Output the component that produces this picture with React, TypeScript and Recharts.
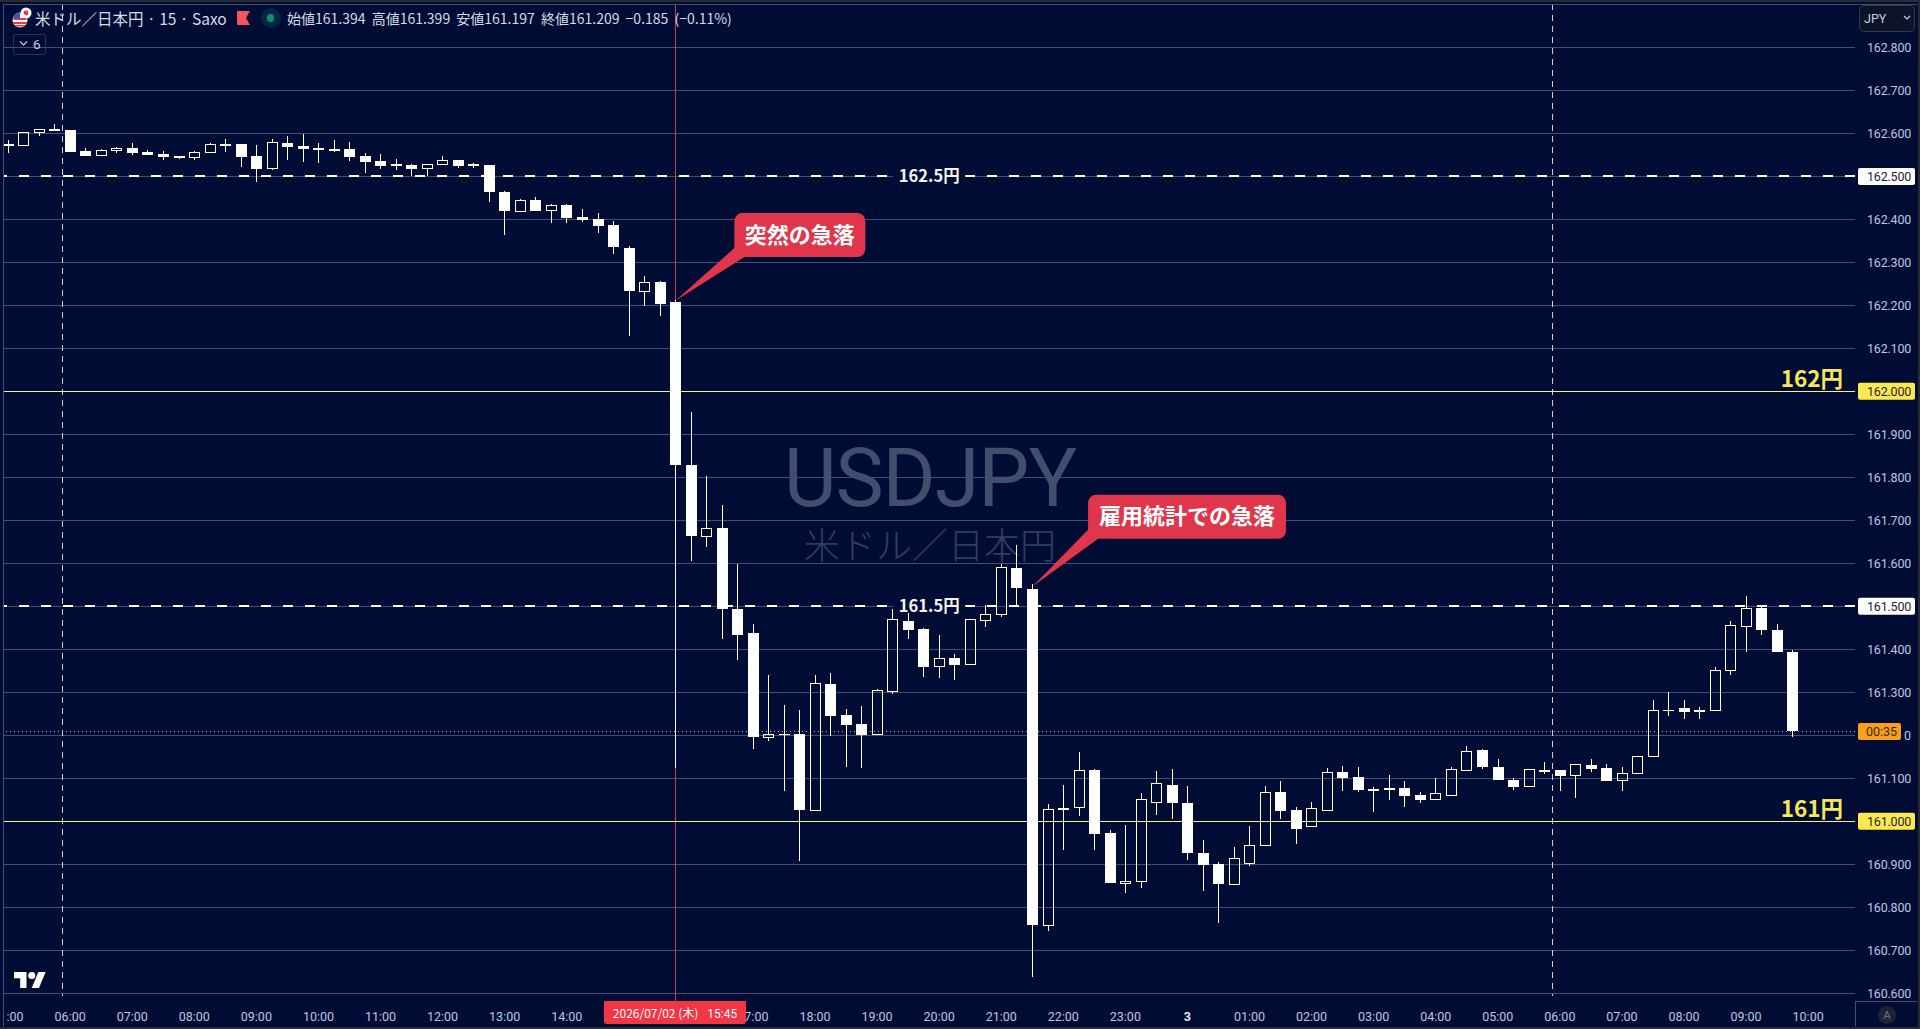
import { Bar, CartesianGrid, ComposedChart, ReferenceDot, ReferenceLine, XAxis, YAxis } from 'recharts';

const BG = '#000c34';
const GRID = '#434e78';
const YELLOW = '#f7e75a';
const LEVEL_LINE = '#f5f08a';
const RED = '#e0364c';
const TICK = '#bcc7e0';
const TICK_FONT = 'Roboto, "Noto Sans", sans-serif';
const JP_FONT = '"Noto Sans CJK JP", sans-serif';

// 15 minute candles, 07/02 05:00 to 07/03 09:45
const opens = [
  162.574, 162.571, 162.601, 162.61, 162.608, 162.558, 162.548, 162.56, 162.566, 162.557, 162.552, 162.547,
  162.543, 162.555, 162.574, 162.575, 162.547, 162.518, 162.578, 162.571, 162.566, 162.562, 162.564, 162.547,
  162.536, 162.529, 162.526, 162.518, 162.527, 162.538, 162.526, 162.526, 162.464, 162.419, 162.445, 162.42,
  162.433, 162.405, 162.401, 162.387, 162.333, 162.233, 162.254, 162.208, 161.829, 161.662, 161.682, 161.493,
  161.437, 161.196, 161.204, 161.202, 161.026, 161.32, 161.247, 161.227, 161.201, 161.303, 161.467, 161.447,
  161.359, 161.379, 161.364, 161.468, 161.48, 161.59, 161.54, 160.757, 161.03, 161.032, 161.119, 160.972,
  160.855, 160.861, 161.044, 161.084, 161.042, 160.926, 160.9, 160.854, 160.902, 160.943, 161.068, 161.026,
  160.987, 161.026, 161.114, 161.102, 161.075, 161.076, 161.077, 161.061, 161.05, 161.059, 161.119, 161.165,
  161.127, 161.097, 161.08, 161.118, 161.119, 161.106, 161.13, 161.123, 161.094, 161.11, 161.15, 161.26,
  161.263, 161.258, 161.257, 161.35, 161.454, 161.495, 161.444, 161.394,
];
const highs = [
  162.584, 162.603, 162.61, 162.622, 162.608, 162.566, 162.564, 162.569, 162.578, 162.561, 162.558, 162.547,
  162.559, 162.578, 162.587, 162.575, 162.573, 162.588, 162.594, 162.598, 162.578, 162.584, 162.58, 162.554,
  162.552, 162.54, 162.529, 162.529, 162.547, 162.538, 162.532, 162.526, 162.466, 162.447, 162.452, 162.436,
  162.436, 162.424, 162.415, 162.396, 162.338, 162.268, 162.257, 162.212, 161.952, 161.803, 161.736, 161.599,
  161.46, 161.34, 161.27, 161.258, 161.34, 161.344, 161.261, 161.268, 161.307, 161.493, 161.484, 161.449,
  161.433, 161.388, 161.47, 161.502, 161.599, 161.643, 161.553, 161.04, 161.084, 161.161, 161.121, 160.979,
  160.991, 161.065, 161.116, 161.121, 161.081, 160.956, 160.905, 160.94, 160.989, 161.082, 161.093, 161.033,
  161.044, 161.123, 161.128, 161.126, 161.079, 161.107, 161.093, 161.068, 161.1, 161.126, 161.175, 161.169,
  161.144, 161.1, 161.121, 161.137, 161.119, 161.133, 161.144, 161.133, 161.126, 161.151, 161.281, 161.3,
  161.281, 161.265, 161.36, 161.467, 161.523, 161.498, 161.46, 161.399,
];
const lows = [
  162.555, 162.57, 162.595, 162.605, 162.557, 162.547, 162.548, 162.555, 162.55, 162.55, 162.538, 162.54,
  162.538, 162.555, 162.557, 162.522, 162.487, 162.515, 162.538, 162.533, 162.531, 162.557, 162.536, 162.508,
  162.517, 162.515, 162.501, 162.501, 162.527, 162.519, 162.519, 162.44, 162.364, 162.419, 162.419, 162.392,
  162.392, 162.394, 162.368, 162.319, 162.129, 162.199, 162.175, 161.125, 161.606, 161.639, 161.423, 161.374,
  161.168, 161.186, 161.07, 160.908, 161.026, 161.198, 161.126, 161.123, 161.201, 161.296, 161.423, 161.335,
  161.333, 161.328, 161.363, 161.451, 161.475, 161.5, 160.638, 160.745, 160.933, 161.012, 160.933, 160.856,
  160.833, 160.844, 161.014, 161.005, 160.909, 160.837, 160.764, 160.854, 160.895, 160.943, 161.005, 160.947,
  160.987, 161.026, 161.07, 161.068, 161.021, 161.049, 161.033, 161.042, 161.05, 161.059, 161.119, 161.121,
  161.095, 161.072, 161.079, 161.109, 161.07, 161.054, 161.114, 161.093, 161.07, 161.109, 161.15, 161.244,
  161.237, 161.237, 161.257, 161.34, 161.393, 161.433, 161.393, 161.197,
];
const closes = [
  162.575, 162.602, 162.608, 162.605, 162.557, 162.547, 162.56, 162.566, 162.554, 162.55, 162.545, 162.545,
  162.556, 162.574, 162.575, 162.546, 162.517, 162.579, 162.568, 162.564, 162.561, 162.563, 162.546, 162.533,
  162.524, 162.524, 162.517, 162.528, 162.537, 162.524, 162.527, 162.464, 162.419, 162.444, 162.419, 162.433,
  162.403, 162.398, 162.385, 162.336, 162.233, 162.254, 162.203, 161.829, 161.664, 161.682, 161.494, 161.433,
  161.195, 161.202, 161.203, 161.026, 161.32, 161.244, 161.223, 161.2, 161.304, 161.469, 161.444, 161.36,
  161.378, 161.363, 161.469, 161.481, 161.59, 161.543, 160.759, 161.027, 161.026, 161.118, 160.97, 160.856,
  160.86, 161.05, 161.088, 161.042, 160.926, 160.898, 160.854, 160.913, 160.944, 161.067, 161.023, 160.982,
  161.03, 161.113, 161.1, 161.072, 161.07, 161.077, 161.058, 161.049, 161.064, 161.12, 161.162, 161.126,
  161.095, 161.079, 161.12, 161.119, 161.105, 161.132, 161.121, 161.093, 161.111, 161.15, 161.257, 161.256,
  161.254, 161.254, 161.35, 161.455, 161.495, 161.444, 161.393, 161.209,
];
// one label per 4 candles; 15:00 and 16:00 sit under the cursor tag and are blank,
// the first and the 17:00 label are cut by an edge in the picture
const timeLabels = [
  ':00', '06:00', '07:00', '08:00', '09:00', '10:00', '11:00', '12:00', '13:00', '14:00', '', '',
  '7:00', '18:00', '19:00', '20:00', '21:00', '22:00', '23:00', '3', '01:00', '02:00', '03:00', '04:00',
  '05:00', '06:00', '07:00', '08:00', '09:00', '10:00',
];
const timeTicks = timeLabels.map((_, i) => i * 4);
const gridPrices = [
  160.6, 160.7, 160.8, 160.9, 161, 161.1, 161.2, 161.3, 161.4, 161.5, 161.6, 161.7, 161.8, 161.9, 162, 162.1,
  162.2, 162.3, 162.4, 162.5, 162.6, 162.7, 162.8,
];
const lastPrice = 161.209;
const priceTicks = [...gridPrices, lastPrice];
const roundLevels = [
  { price: 162, label: '162円' },
  { price: 161, label: '161円' },
];
const halfLevels = [
  { price: 162.5, label: '162.5円' },
  { price: 161.5, label: '161.5円' },
];
const sessionBreaks = [3.5, 99.5];
const calloutMarks = [
  { index: 43, price: 162.2107, text: '突然の急落', dx: 59, dy: -87.7, w: 131 },
  { index: 66.02, price: 161.546, text: '雇用統計での急落', dx: 55.5, dy: -91.7, w: 198 },
];

const data = opens.map((open, i) => ({
  i,
  open,
  high: highs[i],
  low: lows[i],
  close: closes[i],
  range: [lows[i], highs[i]],
}));

function Candle(props: any) {
  const { x, y, width, height, payload } = props;
  const { open, close, high, low } = payload;
  const perUnit = height / (high - low);
  const top = y + (high - Math.max(open, close)) * perUnit;
  const bottom = y + (high - Math.min(open, close)) * perUnit;
  const mid = Math.round(x + width / 2) + 0.5;
  const left = mid - 5.5;
  const isUp = close > open;
  return (
    <g shapeRendering="crispEdges">
      <line x1={mid} x2={mid} y1={y} y2={top} stroke="#fff" />
      <line x1={mid} x2={mid} y1={bottom} y2={y + height} stroke="#fff" />
      {isUp ? (
        <rect x={left + 0.5} y={top} width={10} height={Math.max(bottom - top, 1)} fill="none" stroke="#fff" />
      ) : (
        <rect x={left} y={top} width={11} height={Math.max(bottom - top, 1.5)} fill="#fff" />
      )}
    </g>
  );
}

function PriceTick({ x, y, payload }: any) {
  const v = payload.value;
  if (v === lastPrice) {
    return (
      <g>
        <rect x={x + 1} y={y - 8.5} width={43} height={17} rx={2} fill="#f7a01c" />
        <text x={x + 9} y={y + 4.5} fontSize={12.5} fontFamily={TICK_FONT} fill="#3a2700">00:35</text>
      </g>
    );
  }
  const badge = v === 162.5 || v === 161.5 ? '#ffffff' : v === 162 || v === 161 ? '#fde94f' : null;
  // the timer tag hides all but the last digit of this tick
  if (v === 161.2) {
    return (
      <text x={x + 54} y={y + 4.5} textAnchor="end" fontSize={12.5} fontFamily={TICK_FONT} fill={TICK}>0</text>
    );
  }
  return (
    <g>
      {badge && <rect x={x + 1} y={y - 8.5} width={57} height={17} rx={2} fill={badge} />}
      <text x={x + 10} y={y + 4.5} fontSize={12.5} letterSpacing={-0.2} fontFamily={TICK_FONT} fill={badge ? '#1c2138' : TICK}>
        {v.toFixed(3)}
      </text>
    </g>
  );
}

function TimeTick({ x, y, payload }: any) {
  const label = timeLabels[payload.value / 4];
  const bold = label === '3';
  const cut = label === ':00' || label === '7:00';
  return (
    <text
      x={cut ? x + 15.5 : x}
      y={y + 18}
      textAnchor={cut ? 'end' : 'middle'}
      fontSize={12.5}
      fontWeight={bold ? 700 : 400}
      fontFamily={TICK_FONT}
      fill={bold ? '#e4e8f2' : TICK}
    >
      {label}
    </text>
  );
}

function HalfLabel({ viewBox, value }: any) {
  const cx = viewBox.x + viewBox.width / 2;
  return (
    <g>
      <rect x={cx - 36} y={viewBox.y - 8} width={72} height={16} fill={BG} />
      <text x={cx} y={viewBox.y + 5.5} textAnchor="middle" fontSize={16.5} fontWeight={700} fontFamily={JP_FONT} fill="#f2f4fa">
        {value}
      </text>
    </g>
  );
}

function RoundLabel({ viewBox, value }: any) {
  return (
    <text x={viewBox.x + viewBox.width - 12} y={viewBox.y - 4} textAnchor="end" fontSize={22.5} fontWeight={700} fontFamily={JP_FONT} fill={YELLOW}>
      {value}
    </text>
  );
}

function Callout({ cx, cy, mark }: any) {
  const left = cx + mark.dx;
  const top = cy + mark.dy;
  const h = 44;
  return (
    <g>
      <path d={`M${cx} ${cy} L${left} ${top + h - 9} L${left + 10} ${top + h} Z`} fill={RED} />
      <rect x={left} y={top} width={mark.w} height={h} rx={8} fill={RED} />
      <text
        x={left + mark.w / 2}
        y={top + 29.5}
        textAnchor="middle"
        fontSize={22}
        fontWeight={700}
        fontFamily={JP_FONT}
        fill="#fff"
      >
        {mark.text}
      </text>
    </g>
  );
}

const abs = (left: number, top: number, width: number, height: number, extra: any = {}) => ({
  position: 'absolute' as const,
  left,
  top,
  width,
  height,
  ...extra,
});

function Overlay() {
  return (
    <>
      {/* frame lines */}
      <div style={abs(3, 4, 1, 1022, { background: GRID })} />
      <div style={abs(3, 4, 1914, 1, { background: GRID })} />
      <div style={abs(1855, 1001, 1, 25, { background: GRID })} />
      <div style={abs(1855, 1001, 62, 1, { background: GRID })} />

      {/* legend row */}
      <svg style={abs(12, 7, 20, 22)} viewBox="0 0 20 22">
        <circle cx="14" cy="6" r="5.5" fill="#fff" />
        <circle cx="14" cy="6" r="2.4" fill="#e0364c" />
        <circle cx="8" cy="13" r="7.5" fill="#f2f2f2" />
        <path d="M1.5 11h13v2h-13zM1 15h14v2h-14zM3 18h10v1.500h-10z" fill="#d8404c" />
        <path d="M2 8.500a7.500 7.500 0 0 1 6-3v6h-7z" fill="#3a58a8" />
      </svg>
      <div style={abs(35, 6, 200, 24, { font: `15.5px ${JP_FONT}`, color: '#d7dbe6', lineHeight: '24px', whiteSpace: 'nowrap' })}>
        米ドル／日本円 · 15 · Saxo
      </div>
      <svg style={abs(237, 11, 13, 14)} viewBox="0 0 13 14">
        <path d="M0 0H13L9 7L13 14H0Z" fill="#f7525f" />
      </svg>
      <div style={abs(261, 8, 20, 20, { borderRadius: 10, background: '#02283f' })} />
      <div style={abs(267, 14, 7, 8, { borderRadius: 4, background: '#0f8f70' })} />
      <div style={abs(287, 7, 460, 22, { font: `14px ${JP_FONT}`, color: '#d7dbe6', lineHeight: '22px', whiteSpace: 'nowrap', wordSpacing: 3 })}>
        始値161.394 高値161.399 安値161.197 終値161.209 −0.185 (−0.11%)
      </div>
      <div style={abs(13, 34, 31, 19, { border: '1px solid #2b3655', borderRadius: 3 })} />
      <svg style={abs(19, 40, 9, 7)} viewBox="0 0 9 7">
        <path d="M1 1.500L4.500 5L8 1.500" fill="none" stroke="#c8cedd" strokeWidth="1.200" />
      </svg>
      <div style={abs(33, 34, 10, 20, { font: `13.5px ${TICK_FONT}`, color: '#c8cedd', lineHeight: '21px' })}>6</div>

      {/* currency button */}
      <div style={abs(1859, 5, 54, 25, { background: '#0e1428', border: '1px solid #2d3652', borderRadius: 5 })} />
      <div style={abs(1864, 6, 30, 25, { font: `12.5px ${TICK_FONT}`, color: '#c8cedd', lineHeight: '25px' })}>JPY</div>
      <svg style={abs(1903, 15, 8, 6)} viewBox="0 0 8 6">
        <path d="M1 1L4 4L7 1" fill="none" stroke="#c8cedd" strokeWidth="1.200" />
      </svg>

      {/* cursor time tag */}
      <div
        style={abs(604, 1001, 142, 23, {
          background: '#f23645',
          borderRadius: '0 0 3px 3px',
          color: '#fff',
          font: `12px ${TICK_FONT}`,
          lineHeight: '23px',
          textAlign: 'center',
          whiteSpace: 'pre',
        })}
      >
        <span style={{ fontFamily: JP_FONT }}>2026/07/02 (木)</span>{'   15:45'}
      </div>

      {/* auto scale button */}
      <div style={abs(1878, 1006, 18, 18, { borderRadius: 9, background: '#1d2335', color: '#6d7386', font: `11.5px ${TICK_FONT}`, lineHeight: '18px', textAlign: 'center' })}>
        A
      </div>

      {/* logo */}
      <svg style={abs(14, 972, 32, 16)} viewBox="0 4 36 18">
        <path
          d="M14 22H7V11H0V4h14v18zM28 22h-8l7.500-18h8L28 22z"
          fill="#fff"
          stroke="#20242c"
          strokeWidth="1.500"
          paintOrder="stroke"
        />
        <circle cx="20" cy="8" r="4" fill="#fff" />
      </svg>
    </>
  );
}

export default function App() {
  return (
    <div style={abs(0, 0, 1920, 1029, { background: '#2a2b31', overflow: 'hidden' })}>
      <div style={abs(0, 2, 1918, 1025, { background: BG })} />

      {/* watermark sits under the chart */}
      <div style={abs(760, 444, 340, 70, { font: `400 81px Roboto, sans-serif`, color: '#434e6f', lineHeight: '70px', textAlign: 'center', letterSpacing: '-1px' })}>
        USDJPY
      </div>
      <div style={abs(760, 525, 340, 36, { font: `300 36px ${JP_FONT}`, color: '#323d5e', lineHeight: '36px', textAlign: 'center' })}>
        米ドル／日本円
      </div>

      <div style={abs(0, 0, 1920, 1029)}>
        <ComposedChart
          width={1920}
          height={1029}
          data={data}
          margin={{ top: 4, right: 0, bottom: 0, left: 3.5 }}
        >
          <CartesianGrid horizontal vertical={false} stroke={GRID} horizontalValues={gridPrices} shapeRendering="crispEdges" />
          <XAxis
            dataKey="i"
            type="number"
            domain={[-0.2964, 119.02]}
            allowDataOverflow
            ticks={timeTicks}
            interval={0}
            height={28}
            tickSize={0}
            tickLine={false}
            axisLine={false}
            tick={<TimeTick />}
          />
          <YAxis
            orientation="right"
            domain={[160.582, 162.901]}
            allowDataOverflow
            ticks={priceTicks}
            interval={0}
            width={65}
            tickSize={0}
            tickLine={false}
            axisLine={false}
            tick={<PriceTick />}
          />
          {sessionBreaks.map((b) => (
            <ReferenceLine
              key={b}
              segment={[{ x: b, y: 162.9 }, { x: b, y: 160.594 }]}
              stroke="#c9d0e2"
              strokeDasharray="6 5"
              shapeRendering="crispEdges"
              zIndex={200}
            />
          ))}
          <ReferenceLine x={43} stroke="#c2405c" shapeRendering="crispEdges" zIndex={200} />
          <ReferenceLine y={lastPrice} stroke="#aab2c8" strokeDasharray="1 3" shapeRendering="crispEdges" zIndex={200} />
          {roundLevels.map((l) => (
            <ReferenceLine
              key={l.price}
              y={l.price}
              stroke={LEVEL_LINE}
              shapeRendering="crispEdges"
              zIndex={200}
              label={<RoundLabel value={l.label} />}
            />
          ))}
          {halfLevels.map((l) => (
            <ReferenceLine
              key={l.price}
              y={l.price}
              stroke="#fff"
              strokeWidth={2}
              strokeDasharray="10 12"
              shapeRendering="crispEdges"
              zIndex={200}
              label={<HalfLabel value={l.label} />}
            />
          ))}
          <Bar dataKey="range" barSize={11} shape={<Candle />} isAnimationActive={false} />
          {calloutMarks.map((m) => (
            <ReferenceDot
              key={m.text}
              x={m.index}
              y={m.price}
              ifOverflow="visible"
              zIndex={1500}
              shape={(p: any) => <Callout cx={p.cx} cy={p.cy} mark={m} />}
            />
          ))}
        </ComposedChart>
      </div>

      <Overlay />
    </div>
  );
}
